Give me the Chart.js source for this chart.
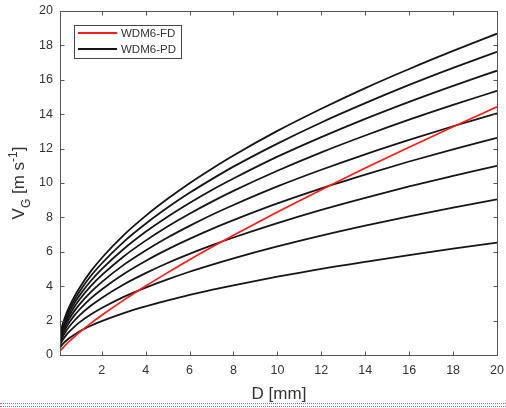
<!DOCTYPE html>
<html>
<head>
<meta charset="utf-8">
<script src="https://cdn.jsdelivr.net/npm/chart.js@4/dist/chart.umd.min.js"></script>
<style>
body { margin: 0; background: #fff; }
#wrap { position: relative; width: 506px; height: 408px; }
#dots { position: absolute; left: 0; top: 403px; width: 506px; height: 2px;
  border-top: 1px dotted #e0439b; border-bottom: 1px dotted #e0439b; }
</style>
</head>
<body>
<div id="wrap">
  <canvas id="chart" width="506" height="408"></canvas>
  <div id="dots"></div>
</div>
<script>
// particle diameter D [mm]
const diam = [0.1, 0.2, 0.35, 0.5, 0.75, 1, 1.5, 2, 3, 4, 5, 6, 7, 8, 10, 12, 14, 16, 18, 20];

// WDM6-FD (red)
const fdSpeed = [0.25, 0.37, 0.58, 0.77, 1.06, 1.33, 1.84, 2.31, 3.19, 4.01, 4.79, 5.54, 6.26, 6.96, 8.31, 9.61, 10.87, 12.08, 13.27, 14.43];

// WDM6-PD (black), top curve first
const pd1 = [1.19, 1.70, 2.28, 2.74, 3.39, 3.93, 4.86, 5.64, 6.97, 8.09, 9.08, 9.99, 10.82, 11.60, 13.03, 14.32, 15.52, 16.63, 17.68, 18.68];
const pd2 = [1.12, 1.61, 2.15, 2.59, 3.20, 3.71, 4.59, 5.32, 6.58, 7.63, 8.57, 9.43, 10.21, 10.95, 12.29, 13.52, 14.64, 15.70, 16.69, 17.63];
const pd3 = [1.05, 1.51, 2.02, 2.43, 3.00, 3.48, 4.30, 4.99, 6.16, 7.16, 8.04, 8.84, 9.58, 10.26, 11.53, 12.67, 13.73, 14.72, 15.65, 16.53];
const pd4 = [0.98, 1.40, 1.87, 2.25, 2.79, 3.24, 4.00, 4.64, 5.73, 6.65, 7.47, 8.21, 8.90, 9.54, 10.71, 11.78, 12.76, 13.68, 14.54, 15.36];
const pd5 = [0.89, 1.28, 1.71, 2.06, 2.55, 2.96, 3.65, 4.24, 5.24, 6.08, 6.83, 7.51, 8.14, 8.72, 9.80, 10.77, 11.67, 12.51, 13.30, 14.05];
const pd6 = [0.80, 1.15, 1.54, 1.85, 2.29, 2.66, 3.29, 3.81, 4.71, 5.47, 6.14, 6.75, 7.32, 7.84, 8.81, 9.69, 10.49, 11.25, 11.96, 12.63];
const pd7 = [0.70, 1.00, 1.34, 1.61, 1.99, 2.32, 2.86, 3.32, 4.10, 4.76, 5.35, 5.88, 6.37, 6.83, 7.67, 8.44, 9.14, 9.80, 10.41, 11.00];
const pd8 = [0.58, 0.83, 1.10, 1.33, 1.64, 1.91, 2.35, 2.73, 3.38, 3.92, 4.40, 4.84, 5.24, 5.62, 6.31, 6.94, 7.52, 8.06, 8.57, 9.05];
const pd9 = [0.42, 0.60, 0.80, 0.96, 1.18, 1.38, 1.70, 1.97, 2.44, 2.83, 3.17, 3.49, 3.78, 4.05, 4.55, 5.01, 5.42, 5.81, 6.18, 6.53];
const pdSeries = [pd1, pd2, pd3, pd4, pd5, pd6, pd7, pd8, pd9];

const xTicks = [2, 4, 6, 8, 10, 12, 14, 16, 18, 20];
const yTicks = [0, 2, 4, 6, 8, 10, 12, 14, 16, 18, 20];

const FONT = "'Liberation Sans', Arial, Helvetica, sans-serif";
const AXIS = "#555";
const TEXT = "#333";

const toPoints = (ys) => ys.map((y, i) => ({ x: diam[i], y: y }));

const datasets = [{
  label: "WDM6-FD",
  data: toPoints(fdSpeed),
  borderColor: "#ff1a1a",
  borderWidth: 1.7,
}];
pdSeries.forEach((s) => {
  datasets.push({
    label: "WDM6-PD",
    data: toPoints(s),
    borderColor: "#151515",
    borderWidth: 1.8,
  });
});

// box, inward ticks, axis titles and legend, MATLAB style
const matlabAxes = {
  id: "matlabAxes",
  afterDatasetsDraw(chart) {
    const ctx = chart.ctx;
    const a = chart.chartArea;
    const xs = chart.scales.x, ys = chart.scales.y;
    const L = Math.round(a.left) + 0.5, R = Math.round(a.right) + 0.5;
    const T = Math.round(a.top) + 0.5, B = Math.round(a.bottom) + 0.5;
    ctx.save();
    ctx.strokeStyle = AXIS;
    ctx.lineWidth = 1;
    ctx.strokeRect(L, T, R - L, B - T);
    ctx.beginPath();
    xTicks.forEach((v) => {
      const px = Math.round(xs.getPixelForValue(v)) + 0.5;
      if (px <= L + 1 || px >= R - 1) return;
      ctx.moveTo(px, B); ctx.lineTo(px, B - 4);
      ctx.moveTo(px, T); ctx.lineTo(px, T + 4);
    });
    yTicks.forEach((v) => {
      const py = Math.round(ys.getPixelForValue(v)) + 0.5;
      if (py <= T + 1 || py >= B - 1) return;
      ctx.moveTo(L, py); ctx.lineTo(L + 4, py);
      ctx.moveTo(R, py); ctx.lineTo(R - 4, py);
    });
    ctx.stroke();

    // x title
    ctx.fillStyle = TEXT;
    ctx.font = "17px " + FONT;
    ctx.textAlign = "center";
    ctx.textBaseline = "alphabetic";
    ctx.fillText("D [mm]", (L + R) / 2, 399);

    // y title with subscript / superscript
    const parts = [
      { t: "V", f: 17, dy: 0 },
      { t: "G", f: 12, dy: 6 },
      { t: " [m s", f: 17, dy: 0 },
      { t: "-1", f: 12, dy: -7 },
      { t: "]", f: 17, dy: 0 },
    ];
    let total = 0;
    parts.forEach((p) => { ctx.font = p.f + "px " + FONT; p.w = ctx.measureText(p.t).width; total += p.w; });
    ctx.translate(23.5, 183);
    ctx.rotate(-Math.PI / 2);
    ctx.textAlign = "left";
    let cx = -total / 2;
    parts.forEach((p) => {
      ctx.font = p.f + "px " + FONT;
      ctx.fillText(p.t, cx, p.dy);
      cx += p.w;
    });
    ctx.restore();

    // legend
    ctx.save();
    ctx.fillStyle = "#fff";
    ctx.fillRect(74.5, 25.5, 107, 33);
    ctx.strokeStyle = "#444";
    ctx.lineWidth = 1;
    ctx.strokeRect(74.5, 25.5, 107, 33);
    const entries = [chart.data.datasets[0], chart.data.datasets[1]];
    const rowY = [33, 49];
    ctx.font = "11.5px " + FONT;
    ctx.textBaseline = "middle";
    ctx.textAlign = "left";
    entries.forEach((d, i) => {
      ctx.strokeStyle = d.borderColor;
      ctx.lineWidth = 2;
      ctx.beginPath();
      ctx.moveTo(78, rowY[i]);
      ctx.lineTo(117, rowY[i]);
      ctx.stroke();
      ctx.fillStyle = TEXT;
      ctx.fillText(d.label, 121, rowY[i] + 1);
    });
    ctx.restore();
  },
};

new Chart(document.getElementById("chart"), {
  type: "line",
  data: { datasets: datasets },
  options: {
    responsive: false,
    animation: false,
    devicePixelRatio: 1,
    layout: { padding: { left: 0, top: 11, right: 9, bottom: 0 } },
    elements: {
      point: { radius: 0 },
      line: { cubicInterpolationMode: "monotone", fill: false },
    },
    plugins: {
      legend: { display: false },
      tooltip: { enabled: false },
    },
    scales: {
      x: {
        type: "linear",
        min: 0.1,
        max: 20,
        grid: { display: false, drawTicks: false },
        border: { display: false },
        afterFit: (s) => { s.height = 53; s.paddingLeft = 0; s.paddingRight = 0; },
        afterBuildTicks: (s) => { s.ticks = xTicks.map((v) => ({ value: v })); },
        ticks: {
          padding: 8,
          color: TEXT,
          font: { family: FONT, size: 12.5 },
          maxRotation: 0,
          autoSkip: false,
        },
      },
      y: {
        type: "linear",
        min: 0,
        max: 20,
        grid: { display: false, drawTicks: false },
        border: { display: false },
        afterFit: (s) => { s.width = 60; s.paddingTop = 0; s.paddingBottom = 0; },
        afterBuildTicks: (s) => { s.ticks = yTicks.map((v) => ({ value: v })); },
        ticks: {
          padding: 7,
          color: TEXT,
          font: { family: FONT, size: 12.5 },
          autoSkip: false,
        },
      },
    },
  },
  plugins: [matlabAxes],
});
</script>
</body>
</html>
